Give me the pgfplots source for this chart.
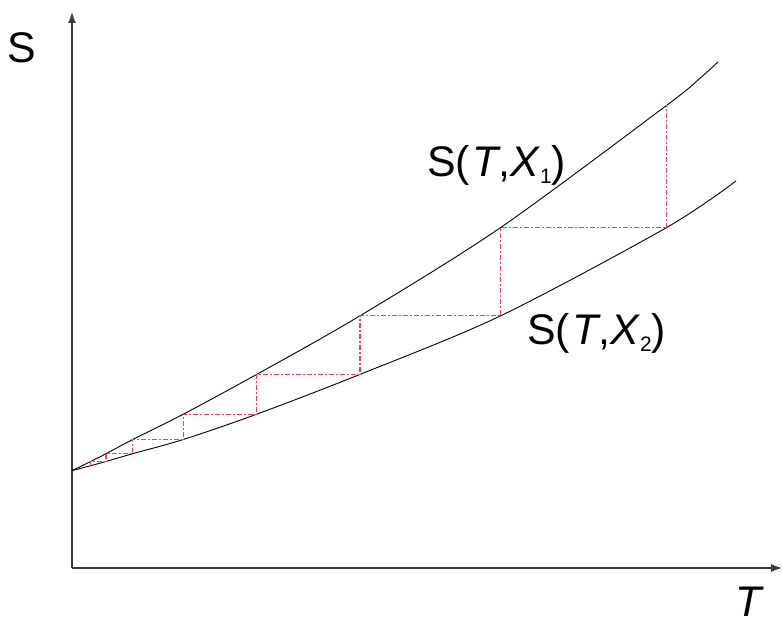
\documentclass[border=0pt]{standalone}
\usepackage{fontspec}
\setmainfont{Liberation Sans}
\usepackage{pgfplots}
\pgfplotsset{compat=1.18}
\usetikzlibrary{arrows.meta}

\definecolor{axisgray}{HTML}{3A3A3A}
\definecolor{steppink}{HTML}{EE3A70}

\newcommand{\lbl}{\fontsize{43}{48}\selectfont}
\newcommand{\sub}[1]{\raisebox{-7bp}{\fontsize{21}{22}\selectfont #1}}

\begin{document}
\begin{tikzpicture}
\begin{axis}[
  scale only axis,
  width=710bp, height=556bp,
  xmin=0, xmax=710, ymin=0, ymax=556,
  axis lines=left,
  axis line style={axisgray, line width=1.1bp, -{Latex[length=11bp,width=8bp]}},
  ticks=none,
  clip=false,
]
% S(T,X_1)
\addplot[black, line width=0.9bp, smooth, tension=0.5] coordinates {
  (0,97.3) (18.7,106.5) (34,114.3) (60.7,128.5) (111.3,153.8)
  (184.7,193.6) (288,252.2) (428.7,340.5) (594.7,462.7) (626,488) (646,506)
};
% S(T,X_2)
\addplot[black, line width=0.9bp, smooth, tension=0.5] coordinates {
  (0,97.3) (18.7,102.3) (34,106.5) (60.7,114.3) (111.3,128.5)
  (184.7,153.8) (288,193.6) (428.7,252.2) (594.7,340.5) (664,387)
};
% staircase between the two curves
\addplot[steppink, line width=1.25bp, dash pattern=on 5bp off 2bp on 2bp off 2bp] coordinates {
  (18.7,102.3) (18.7,106.5) (34,106.5) (34,114.3) (60.7,114.3) (60.7,128.5)
  (111.3,128.5) (111.3,153.8) (184.7,153.8) (184.7,193.6) (288,193.6) (288,252.2)
  (428.7,252.2) (428.7,340.5) (594.7,340.5) (594.7,462.7)
};
\node[anchor=center, inner sep=0pt] at (axis cs:-50,520) {\lbl S};
\node[anchor=center, inner sep=0pt] at (axis cs:678,-34) {\lbl\textit{T}};
\node[anchor=base west, inner sep=0pt] at (axis cs:355,391)
  {\lbl S(\kern2bp\textit{T},\textit{X}\sub{1})};
\node[anchor=base west, inner sep=0pt] at (axis cs:455,223)
  {\lbl S(\kern2bp\textit{T},\textit{X}\sub{2})};
\end{axis}
\pgfresetboundingbox
\path (-72bp,-54bp) rectangle (710bp,568bp);
\end{tikzpicture}
\end{document}
